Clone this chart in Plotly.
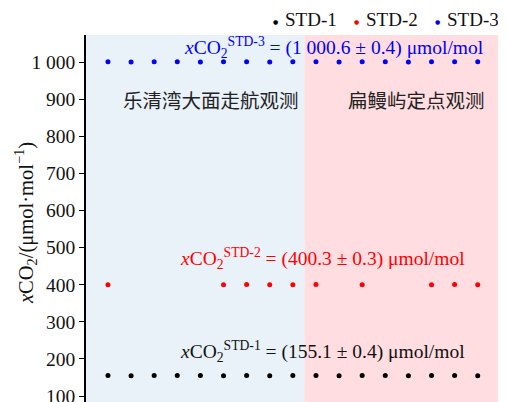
import plotly.graph_objects as go

# ---- data ----
idx = list(range(1, 18))
std1_x = idx
std1_y = [155.1, 155.0, 155.2, 155.1, 155.3, 155.0, 155.1, 154.9, 155.2,
          155.1, 155.0, 155.3, 155.1, 154.8, 155.2, 155.1, 155.0]
std2_x = [1, 6, 7, 8, 9, 10, 12, 15, 16, 17]
std2_y = [400.3, 400.2, 400.4, 400.3, 400.1, 400.5, 400.3, 400.2, 400.4, 400.3]
std3_x = idx
std3_y = [1000.6, 1000.5, 1000.7, 1000.6, 1000.4, 1000.8, 1000.6, 1000.5, 1000.7,
          1000.6, 1000.4, 1000.6, 1000.7, 1000.5, 1000.6, 1000.8, 1000.6]
series_names = ["STD-1", "STD-2", "STD-3"]
series_colors = ["#000000", "#ff0000", "#0000ff"]
tick_vals = [100, 200, 300, 400, 500, 600, 700, 800, 900, 1000]
tick_text = ["100", "200", "300", "400", "500", "600", "700", "800", "900", "1 000"]
region_labels = ["乐清湾大面走航观测", "扁鳗屿定点观测"]
region_bounds = [(0.0, 9.5), (9.5, 18.05)]
region_label_x = [5.45, 14.35]
region_colors = ["#e9f1f9", "#ffdde0"]

SERIF = "Liberation Serif, Times New Roman, serif"
CJK = "Noto Sans CJK SC"

# page body has an 8px margin, so the figure is laid out 8px in from the window edge
OFF = 8
W, H = 506 - OFF, 402 - OFF
ML, MT, MB = 86 - OFF, 35 - OFF, 0
MR = W - (502 - OFF)
PW, PH = W - ML - MR, H - MT - MB


def px2paper_x(px):
    return (px - OFF - ML) / PW


def px2paper_y(py):
    return (H - MB - (py - OFF)) / PH


fig = go.Figure()
for (xs, ys), name, col in zip([(std1_x, std1_y), (std2_x, std2_y), (std3_x, std3_y)],
                               series_names, series_colors):
    fig.add_trace(go.Scatter(x=xs, y=ys, mode="markers", name=name, showlegend=False,
                             marker=dict(color=col, size=5)))

for (x0, x1), c in zip(region_bounds, region_colors):
    fig.add_shape(type="rect", xref="x", yref="paper", x0=x0, x1=x1, y0=0, y1=1,
                  fillcolor=c, line_width=0, layer="below")

for lbl, xc in zip(region_labels, region_label_x):
    fig.add_annotation(x=xc, y=900, xref="x", yref="y",
                       text=lbl, showarrow=False,
                       font=dict(family=CJK, size=19.5, color="#222222"))

fig.add_annotation(x=10.8, y=1040, xref="x", yref="y", showarrow=False,
                   text="<i>x</i>CO<sub>2</sub><sup>STD-3</sup> = (1 000.6 ± 0.4) μmol/mol",
                   font=dict(family=SERIF, size=19.5, color="#0000ff"))
fig.add_annotation(x=10.3, y=470, xref="x", yref="y", showarrow=False,
                   text="<i>x</i>CO<sub>2</sub><sup>STD-2</sup> = (400.3 ± 0.3) μmol/mol",
                   font=dict(family=SERIF, size=19.5, color="#ff0000"))
fig.add_annotation(x=10.3, y=220, xref="x", yref="y", showarrow=False,
                   text="<i>x</i>CO<sub>2</sub><sup>STD-1</sup> = (155.1 ± 0.4) μmol/mol",
                   font=dict(family=SERIF, size=19.5, color="#111111"))

# y-axis title (rotated annotation for exact placement)
fig.add_annotation(x=px2paper_x(25), y=px2paper_y(223), xref="paper", yref="paper",
                   xanchor="center", yanchor="middle", showarrow=False, textangle=-90,
                   text="<i>x</i>CO<sub>2</sub>/(μmol·mol<sup>−1</sup>)",
                   font=dict(family=SERIF, size=20.5, color="#111111"))

# manual legend (small dot + label)
legend_dot_px = [275, 356, 437]
for name, col, dpx in zip(series_names, series_colors, legend_dot_px):
    fig.add_annotation(x=px2paper_x(dpx), y=px2paper_y(21), xref="paper", yref="paper",
                       xanchor="center", yanchor="middle", showarrow=False,
                       text="●", font=dict(family="DejaVu Sans", size=6, color=col))
    fig.add_annotation(x=px2paper_x(dpx + 8), y=px2paper_y(20), xref="paper", yref="paper",
                       xanchor="left", yanchor="middle", showarrow=False,
                       text=name, font=dict(family=SERIF, size=19, color="#111111"))

fig.update_layout(
    width=W, height=H,
    margin=dict(l=ML, r=MR, t=MT, b=MB, autoexpand=False),
    paper_bgcolor="white", plot_bgcolor="white",
    font=dict(family=SERIF, size=19, color="#111111"),
    showlegend=False,
    xaxis=dict(range=[0.05, 18.05], visible=False),
    yaxis=dict(range=[84, 1073], tickvals=tick_vals, ticktext=tick_text,
               showline=True, linecolor="black", linewidth=1.5,
               ticks="outside", ticklen=5, tickwidth=1.2, tickcolor="black",
               showgrid=False, zeroline=False, ticklabeloverflow="allow",
               tickfont=dict(family=SERIF, size=19.5, color="#111111")),
)

fig.write_html("out.html")
